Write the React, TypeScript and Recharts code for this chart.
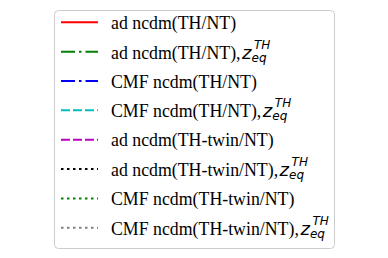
import React from "react";
import { LineChart, Line, Legend } from "recharts";

const labels = [
  "ad ncdm(TH/NT)",
  "ad ncdm(TH/NT),",
  "CMF ncdm(TH/NT)",
  "CMF ncdm(TH/NT),",
  "ad ncdm(TH-twin/NT)",
  "ad ncdm(TH-twin/NT),",
  "CMF ncdm(TH-twin/NT)",
  "CMF ncdm(TH-twin/NT),",
];
const withZeq = [false, true, false, true, false, true, false, true];
const colors = ["#ff0000", "#008000", "#0000ff", "#00bfbf", "#bf00bf", "#000000", "#008000", "#808080"];
const dashes = ["", "14 4 2.5 4", "14 4 2.5 4", "9 3", "9 3", "2.5 3.5", "2.5 3.5", "2.5 3.5"];

const data: { x: number }[] = [];

// Times advance widths (1/1000 em) so the serif labels get the same length as the original
const TIMES: Record<string, number> = {
  a: 444, d: 500, " ": 250, n: 500, c: 444, m: 778, "(": 333, ")": 333, T: 611, H: 722,
  "/": 278, N: 722, C: 667, M: 889, F: 556, "-": 333, t: 278, w: 722, i: 278, ",": 250,
};
const FS = 17.8;
const textWidth = (s: string) => s.split("").reduce((w, ch) => w + (TIMES[ch] ?? 500), 0) * FS / 1000;

const ROW0 = 12.3;
const PITCH = 29.35;
const math = { fontFamily: "'DejaVu Sans'", fontStyle: "italic" as const };

const LegendBox = () => (
  <svg width={284} height={242} style={{ display: "block" }}>
    <rect x={0.5} y={0.5} width={280} height={238} rx={4} fill="#ffffff" stroke="#cccccc" />
    {labels.map((lab, i) => {
      const y = ROW0 + PITCH * i;
      const base = y + (withZeq[i] ? 7 : 6.5);
      const w = textWidth(lab);
      const zx = 57 + w + 1.5;
      return (
        <g key={i}>
          <line x1={7} x2={44} y1={y} y2={y} stroke={colors[i]} strokeWidth={2} strokeDasharray={dashes[i] || undefined} />
          <text x={57} y={base} fontSize={FS} fill="#000" textLength={w} lengthAdjust="spacingAndGlyphs"
            style={{ fontFamily: "'Liberation Serif', 'Times New Roman', serif" }}>
            {lab}
          </text>
          {withZeq[i] && (
            <g fill="#000">
              <text x={zx} y={base} fontSize={18} style={math}>z</text>
              <text x={zx + 9.5} y={base + 3} fontSize={12} style={math}>eq</text>
              <text x={zx + 12} y={base - 10} fontSize={12} style={math}>TH</text>
            </g>
          )}
        </g>
      );
    })}
  </svg>
);

export default function App() {
  return (
    <div style={{ position: "absolute", left: 0, top: 0 }}>
      <LineChart width={388} height={258} data={data} margin={{ top: 0, right: 0, bottom: 0, left: 0 }}>
        {labels.map((lab, i) => (
          <Line
            key={i}
            dataKey="x"
            name={lab}
            stroke={colors[i]}
            strokeDasharray={dashes[i] || undefined}
            dot={false}
            isAnimationActive={false}
          />
        ))}
        <Legend
          layout="vertical"
          content={() => <LegendBox />}
          wrapperStyle={{ left: 54, top: 10, width: 284, height: 242 }}
        />
      </LineChart>
    </div>
  );
}
